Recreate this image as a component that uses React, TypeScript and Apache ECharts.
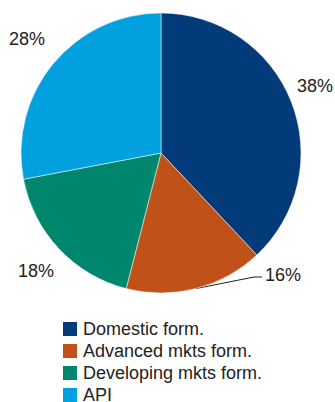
import React, { useEffect, useRef } from "react";
import * as echarts from "echarts";

const categories = ["Domestic form.", "Advanced mkts form.", "Developing mkts form.", "API"];
const values = [38, 16, 18, 28];
const colors = ["#023a7a", "#bf5119", "#00866c", "#00a1de"];

// label anchor positions (left x, centre y) per slice
const labelPos = [
  [297, 86],
  [265, 275],
  [18, 271],
  [9, 39],
];

const FONT = '"Liberation Sans", Arial, sans-serif';

export default function App() {
  const ref = useRef<HTMLDivElement>(null);
  useEffect(() => {
    if (!ref.current) return;
    const chart = echarts.init(ref.current, undefined, { renderer: "svg" });
    chart.setOption({
      animation: false,
      legend: {
        orient: "vertical",
        left: 61,
        top: 318,
        height: 120,
        itemWidth: 16,
        itemHeight: 16,
        itemGap: 0,
        icon: "rect",
        padding: 0,
        textStyle: { fontFamily: FONT, fontSize: 18, lineHeight: 22, color: "#222" },
        data: categories,
      },
      series: [
        {
          type: "pie",
          center: [161, 153],
          radius: [0, 140],
          startAngle: 90,
          clockwise: true,
          itemStyle: { borderColor: "#ffffff", borderWidth: 0.5 },
          label: {
            show: true,
            position: "outside",
            formatter: "{c}%",
            fontFamily: FONT,
            fontSize: 18,
            color: "#222",
            width: 50,
            overflow: "none",
          },
          labelLine: { show: true, length: 10, length2: 10, lineStyle: { color: "#222", width: 1 } },
          emphasis: { disabled: true },
          labelLayout: (params: any) => {
            const i = params.dataIndex;
            const p = labelPos[i];
            const res: any = { x: p[0], y: p[1], align: "left", verticalAlign: "middle" };
            if (i === 1 && params.labelLinePoints) {
              const s = params.labelLinePoints[0];
              res.labelLinePoints = [s, [254, 277], [262, 277]];
            }
            return res;
          },
          data: categories.map((name, i) => ({
            name,
            value: values[i],
            itemStyle: { color: colors[i] },
            labelLine: i === 1 ? {} : { lineStyle: { opacity: 0, width: 0 } },
          })),
        },
      ],
    });
    return () => chart.dispose();
  }, []);
  return (
    <div
      ref={ref}
      style={{ position: "absolute", left: 0, top: 0, width: 335, height: 402, background: "#fff" }}
    />
  );
}
